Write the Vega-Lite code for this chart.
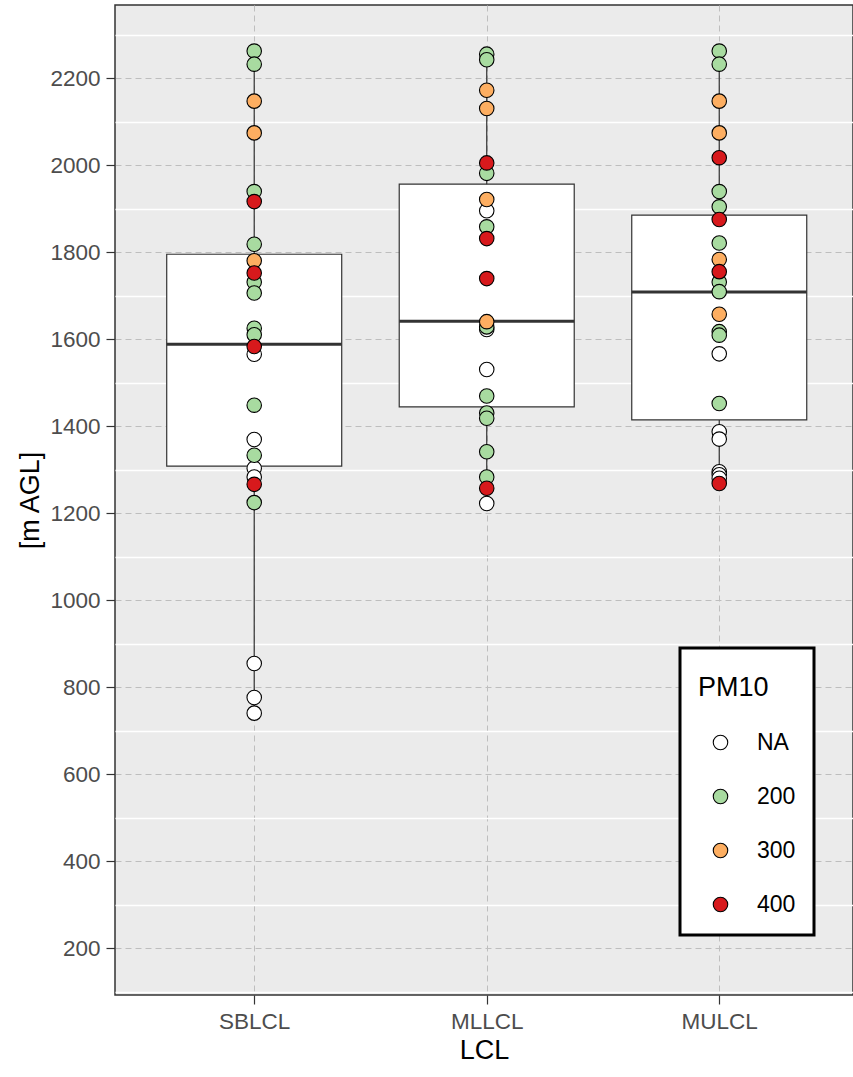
{
  "$schema": "https://vega.github.io/schema/vega-lite/v6.json",
  "autosize": {"type": "none"},
  "padding": {"left": 115, "top": 5, "right": 0, "bottom": 82},
  "width": 738,
  "height": 990,
  "datasets": {
    "pts": [
      {"LCL": "SBLCL", "h": 2262, "PM10": "200"},
      {"LCL": "SBLCL", "h": 2232, "PM10": "200"},
      {"LCL": "SBLCL", "h": 2147, "PM10": "300"},
      {"LCL": "SBLCL", "h": 2074, "PM10": "300"},
      {"LCL": "SBLCL", "h": 1939, "PM10": "200"},
      {"LCL": "SBLCL", "h": 1916, "PM10": "400"},
      {"LCL": "SBLCL", "h": 1818, "PM10": "200"},
      {"LCL": "SBLCL", "h": 1731, "PM10": "200"},
      {"LCL": "SBLCL", "h": 1780, "PM10": "300"},
      {"LCL": "SBLCL", "h": 1752, "PM10": "400"},
      {"LCL": "SBLCL", "h": 1706, "PM10": "200"},
      {"LCL": "SBLCL", "h": 1565, "PM10": "NA"},
      {"LCL": "SBLCL", "h": 1625, "PM10": "200"},
      {"LCL": "SBLCL", "h": 1610, "PM10": "200"},
      {"LCL": "SBLCL", "h": 1583, "PM10": "400"},
      {"LCL": "SBLCL", "h": 1448, "PM10": "200"},
      {"LCL": "SBLCL", "h": 1369, "PM10": "NA"},
      {"LCL": "SBLCL", "h": 1303, "PM10": "NA"},
      {"LCL": "SBLCL", "h": 1333, "PM10": "200"},
      {"LCL": "SBLCL", "h": 1283, "PM10": "NA"},
      {"LCL": "SBLCL", "h": 1266, "PM10": "400"},
      {"LCL": "SBLCL", "h": 1224, "PM10": "200"},
      {"LCL": "SBLCL", "h": 854, "PM10": "NA"},
      {"LCL": "SBLCL", "h": 776, "PM10": "NA"},
      {"LCL": "SBLCL", "h": 740, "PM10": "NA"},
      {"LCL": "MLLCL", "h": 2255, "PM10": "200"},
      {"LCL": "MLLCL", "h": 2242, "PM10": "200"},
      {"LCL": "MLLCL", "h": 2172, "PM10": "300"},
      {"LCL": "MLLCL", "h": 2130, "PM10": "300"},
      {"LCL": "MLLCL", "h": 1981, "PM10": "200"},
      {"LCL": "MLLCL", "h": 2005, "PM10": "400"},
      {"LCL": "MLLCL", "h": 1895, "PM10": "NA"},
      {"LCL": "MLLCL", "h": 1921, "PM10": "300"},
      {"LCL": "MLLCL", "h": 1858, "PM10": "200"},
      {"LCL": "MLLCL", "h": 1831, "PM10": "400"},
      {"LCL": "MLLCL", "h": 1739, "PM10": "400"},
      {"LCL": "MLLCL", "h": 1622, "PM10": "NA"},
      {"LCL": "MLLCL", "h": 1628, "PM10": "200"},
      {"LCL": "MLLCL", "h": 1640, "PM10": "300"},
      {"LCL": "MLLCL", "h": 1530, "PM10": "NA"},
      {"LCL": "MLLCL", "h": 1469, "PM10": "200"},
      {"LCL": "MLLCL", "h": 1430, "PM10": "200"},
      {"LCL": "MLLCL", "h": 1418, "PM10": "200"},
      {"LCL": "MLLCL", "h": 1341, "PM10": "200"},
      {"LCL": "MLLCL", "h": 1283, "PM10": "200"},
      {"LCL": "MLLCL", "h": 1222, "PM10": "NA"},
      {"LCL": "MLLCL", "h": 1257, "PM10": "400"},
      {"LCL": "MULCL", "h": 2262, "PM10": "200"},
      {"LCL": "MULCL", "h": 2232, "PM10": "200"},
      {"LCL": "MULCL", "h": 2147, "PM10": "300"},
      {"LCL": "MULCL", "h": 2074, "PM10": "300"},
      {"LCL": "MULCL", "h": 2017, "PM10": "400"},
      {"LCL": "MULCL", "h": 1939, "PM10": "200"},
      {"LCL": "MULCL", "h": 1904, "PM10": "200"},
      {"LCL": "MULCL", "h": 1875, "PM10": "400"},
      {"LCL": "MULCL", "h": 1821, "PM10": "200"},
      {"LCL": "MULCL", "h": 1783, "PM10": "300"},
      {"LCL": "MULCL", "h": 1731, "PM10": "200"},
      {"LCL": "MULCL", "h": 1755, "PM10": "400"},
      {"LCL": "MULCL", "h": 1709, "PM10": "200"},
      {"LCL": "MULCL", "h": 1657, "PM10": "300"},
      {"LCL": "MULCL", "h": 1566, "PM10": "NA"},
      {"LCL": "MULCL", "h": 1617, "PM10": "200"},
      {"LCL": "MULCL", "h": 1609, "PM10": "200"},
      {"LCL": "MULCL", "h": 1452, "PM10": "200"},
      {"LCL": "MULCL", "h": 1387, "PM10": "NA"},
      {"LCL": "MULCL", "h": 1370, "PM10": "NA"},
      {"LCL": "MULCL", "h": 1295, "PM10": "NA"},
      {"LCL": "MULCL", "h": 1288, "PM10": "NA"},
      {"LCL": "MULCL", "h": 1280, "PM10": "NA"},
      {"LCL": "MULCL", "h": 1268, "PM10": "400"}
    ],
    "box": [
      {"LCL": "SBLCL", "lower": 740, "q1": 1308, "median": 1588, "q3": 1795, "upper": 2262},
      {"LCL": "MLLCL", "lower": 1222, "q1": 1444, "median": 1641, "q3": 1956, "upper": 2255},
      {"LCL": "MULCL", "lower": 1268, "q1": 1414, "median": 1708, "q3": 1885, "upper": 2262}
    ]
  },
  "encoding": {
    "x": {
      "field": "LCL", "type": "nominal", "title": "LCL",
      "sort": ["SBLCL", "MLLCL", "MULCL"],
      "scale": {"type": "point", "padding": 0.587, "align": 0.51},
      "axis": {"grid": true, "labelAngle": 0, "titlePadding": 5}
    }
  },
  "layer": [
    {
      "data": {"name": "box"},
      "mark": {"type": "rule", "color": "#333333", "strokeWidth": 1.2},
      "encoding": {
        "y": {
          "field": "lower", "type": "quantitative",
          "scale": {"domain": [92, 2368], "nice": false, "zero": false},
          "axis": {"orient": "left", "values": [100, 300, 500, 700, 900, 1100, 1300, 1500, 1700, 1900, 2100, 2300],
                   "grid": true, "gridColor": "#FFFFFF", "gridDash": [], "gridWidth": 1.3,
                   "labels": false, "ticks": false, "domain": false, "title": null}
        },
        "y2": {"field": "upper"}
      }
    },
    {
      "data": {"name": "box"},
      "mark": {"type": "bar", "size": 175, "fill": "#FFFFFF", "stroke": "#333333", "strokeWidth": 1.2},
      "encoding": {
        "y": {
          "field": "q1", "type": "quantitative", "title": "[m AGL]",
          "axis": {"orient": "left", "values": [200, 400, 600, 800, 1000, 1200, 1400, 1600, 1800, 2000, 2200],
                   "format": "d", "grid": true, "titlePadding": 5}
        },
        "y2": {"field": "q3"}
      }
    },
    {
      "data": {"name": "box"},
      "mark": {"type": "tick", "size": 175, "thickness": 3, "color": "#333333", "opacity": 1, "orient": "horizontal"},
      "encoding": {
        "y": {"field": "median", "type": "quantitative", "axis": null}
      }
    },
    {
      "data": {"name": "pts"},
      "mark": {"type": "point", "shape": "circle", "filled": true, "size": 210, "stroke": "#000000", "strokeWidth": 1.1, "opacity": 1},
      "encoding": {
        "y": {"field": "h", "type": "quantitative", "axis": null},
        "color": {
          "field": "PM10", "type": "nominal", "title": ["", "PM10"],
          "scale": {"domain": ["NA", "200", "300", "400"], "range": ["#FFFFFF", "#A8DBA0", "#FDAE61", "#D7191C"]}
        }
      }
    }
  ],
  "resolve": {"axis": {"y": "independent"}},
  "config": {
    "font": "Liberation Sans",
    "view": {"fill": "#EBEBEB", "stroke": "#333333", "strokeWidth": 1.5},
    "axis": {
      "labelFont": "Liberation Sans", "labelFontSize": 22.5, "labelColor": "#4D4D4D",
      "tickColor": "#333333", "tickSize": 9, "tickWidth": 1.2, "labelPadding": 6,
      "titleFont": "Liberation Sans", "titleFontSize": 27, "titleFontWeight": "normal", "titleColor": "#000000",
      "domain": false, "gridColor": "#BEBEBE", "gridDash": [6, 4], "gridWidth": 1
    },
    "legend": {
      "orient": "none", "legendX": 565, "legendY": 643,
      "padding": 18, "strokeColor": "#000000", "strokeWidth": 3, "fillColor": "#FFFFFF",
      "titleFont": "Liberation Sans", "titleFontSize": 27, "titleFontWeight": "normal", "titleColor": "#000000",
      "titleLineHeight": 9, "titlePadding": 29,
      "labelFont": "Liberation Sans", "labelFontSize": 23, "labelColor": "#000000",
      "symbolType": "circle", "symbolSize": 210, "symbolStrokeColor": "#000000", "symbolStrokeWidth": 1.1,
      "symbolOpacity": 1, "rowPadding": 30, "symbolOffset": 11, "labelOffset": 25
    }
  }
}
